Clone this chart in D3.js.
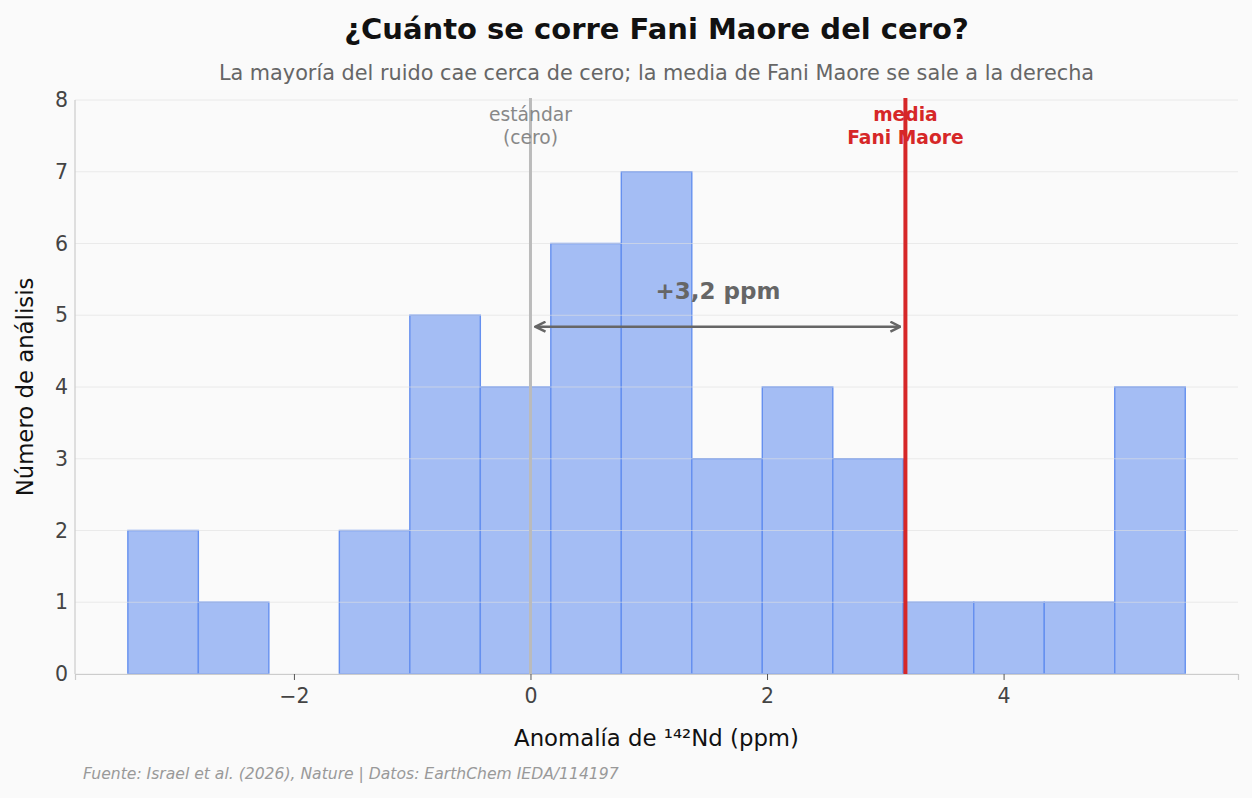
<!DOCTYPE html>
<html>
<head>
<meta charset="utf-8">
<script src="https://cdn.jsdelivr.net/npm/d3@7"></script>
<style>
  body { margin: 0; background: #fafafa; }
  svg { font-family: "DejaVu Sans", sans-serif; display: block; }
</style>
</head>
<body>
<svg id="chart"></svg>
<script>
// histogram bins (ppm) and counts
const binEdges = [-3.404, -2.808, -2.212, -1.616, -1.020, -0.424, 0.172, 0.768, 1.364, 1.960, 2.556, 3.152, 3.748, 4.344, 4.940, 5.536];
const binCounts = [2, 1, 0, 2, 5, 4, 6, 7, 3, 4, 3, 1, 1, 1, 4];
const meanFani = 3.17;
const yTicks = [0, 1, 2, 3, 4, 5, 6, 7, 8];
const xTicks = [-2, 0, 2, 4];

const W = 1252, H = 798;
const margin = {top: 100, right: 14, bottom: 124, left: 75};
const width = W - margin.left - margin.right;
const height = H - margin.top - margin.bottom;

const svg = d3.select('#chart').attr('width', W).attr('height', H);
svg.append('rect').attr('width', W).attr('height', H).attr('fill', '#fafafa');

const chart = svg.append('g')
  .attr('transform', `translate(${margin.left},${margin.top})`);

const xScale = d3.scaleLinear().domain([-3.851, 5.982]).range([0, width]);
const yScale = d3.scaleLinear().domain([0, 8]).range([height, 0]);

// bars
const bins = binCounts.map((c, i) => ({x0: binEdges[i], x1: binEdges[i + 1], count: c}));
chart.selectAll('.bar')
  .data(bins)
  .join('rect')
  .attr('class', 'bar')
  .attr('x', d => xScale(d.x0))
  .attr('width', d => xScale(d.x1) - xScale(d.x0))
  .attr('y', d => yScale(d.count))
  .attr('height', d => yScale(0) - yScale(d.count))
  .attr('fill', '#a4bdf4')
  .attr('stroke', '#6590ef')
  .attr('stroke-width', 1.4);

// grid (drawn over the bars, semi-transparent)
chart.selectAll('.grid')
  .data(yTicks)
  .join('line')
  .attr('class', 'grid')
  .attr('x1', 0).attr('x2', width)
  .attr('y1', d => yScale(d)).attr('y2', d => yScale(d))
  .attr('stroke', '#e0e0e0').attr('stroke-opacity', 0.6).attr('stroke-width', 1);

// axes
const xAxis = d3.axisBottom(xScale).tickValues(xTicks).tickSize(6).tickPadding(8);
const yAxis = d3.axisLeft(yScale).tickValues(yTicks).tickSize(0).tickPadding(7).tickFormat(d3.format('d'));

const xAxisG = chart.append('g')
  .attr('transform', `translate(0,${height})`)
  .call(xAxis);
const yAxisG = chart.append('g').call(yAxis);

[xAxisG, yAxisG].forEach(g => {
  g.select('.domain').attr('stroke', '#cccccc').attr('stroke-width', 1.2);
  g.selectAll('.tick line').attr('stroke', '#555');
  g.selectAll('.tick text').attr('fill', '#444').attr('font-size', 20.5).attr('font-family', 'DejaVu Sans');
});
yAxisG.select('.domain').attr('d', `M0,${height}V0`);

// reference line at zero
chart.append('line')
  .attr('x1', xScale(0)).attr('x2', xScale(0))
  .attr('y1', -2).attr('y2', height)
  .attr('stroke', '#bbbbbb').attr('stroke-width', 3);

// mean line
chart.append('line')
  .attr('x1', xScale(meanFani)).attr('x2', xScale(meanFani))
  .attr('y1', -2).attr('y2', height)
  .attr('stroke', '#d62728').attr('stroke-width', 4);

// annotation labels
const zeroLbl = chart.append('text')
  .attr('text-anchor', 'middle').attr('fill', '#888').attr('font-size', 18.7);
zeroLbl.append('tspan').attr('x', xScale(0)).attr('y', 21).text('estándar');
zeroLbl.append('tspan').attr('x', xScale(0)).attr('y', 44).text('(cero)');

const meanLbl = chart.append('text')
  .attr('text-anchor', 'middle').attr('fill', '#d62728').attr('font-size', 18.7).attr('font-weight', 'bold');
meanLbl.append('tspan').attr('x', xScale(meanFani)).attr('y', 21).text('media');
meanLbl.append('tspan').attr('x', xScale(meanFani)).attr('y', 44).text('Fani Maore');

// arrow
const defs = svg.append('defs');
defs.append('marker')
  .attr('id', 'head')
  .attr('viewBox', '0 0 12 12')
  .attr('refX', 11).attr('refY', 6)
  .attr('markerWidth', 12).attr('markerHeight', 12)
  .attr('markerUnits', 'userSpaceOnUse')
  .attr('orient', 'auto-start-reverse')
  .append('path')
  .attr('d', 'M1,1 L11,6 L1,11')
  .attr('fill', 'none').attr('stroke', '#666').attr('stroke-width', 2.5);

const arrowY = yScale(4.84);
chart.append('line')
  .attr('x1', xScale(0) + 5).attr('x2', xScale(meanFani) - 5)
  .attr('y1', arrowY).attr('y2', arrowY)
  .attr('stroke', '#666').attr('stroke-width', 2.5)
  .attr('marker-start', 'url(#head)')
  .attr('marker-end', 'url(#head)');

chart.append('text')
  .attr('x', xScale(meanFani / 2)).attr('y', yScale(5.22))
  .attr('text-anchor', 'middle')
  .attr('fill', '#666').attr('font-size', 23).attr('font-weight', 'bold')
  .text('+3,2 ppm');

// titles
const cx = margin.left + width / 2;
svg.append('text')
  .attr('x', cx).attr('y', 39)
  .attr('text-anchor', 'middle').attr('font-size', 29).attr('font-weight', 'bold').attr('fill', '#111')
  .text('¿Cuánto se corre Fani Maore del cero?');
svg.append('text')
  .attr('x', cx).attr('y', 80)
  .attr('text-anchor', 'middle').attr('font-size', 20.8).attr('fill', '#666')
  .text('La mayoría del ruido cae cerca de cero; la media de Fani Maore se sale a la derecha');

svg.append('text')
  .attr('x', cx).attr('y', 746)
  .attr('text-anchor', 'middle').attr('font-size', 22.8).attr('fill', '#111')
  .text('Anomalía de ¹⁴²Nd (ppm)');

svg.append('text')
  .attr('transform', `translate(33,${margin.top + height / 2}) rotate(-90)`)
  .attr('text-anchor', 'middle').attr('font-size', 22.8).attr('fill', '#111')
  .text('Número de análisis');

svg.append('text')
  .attr('x', 83).attr('y', 779)
  .attr('font-size', 15.6).attr('font-style', 'italic').attr('fill', '#999')
  .text('Fuente: Israel et al. (2026), Nature | Datos: EarthChem IEDA/114197');
</script>
</body>
</html>
